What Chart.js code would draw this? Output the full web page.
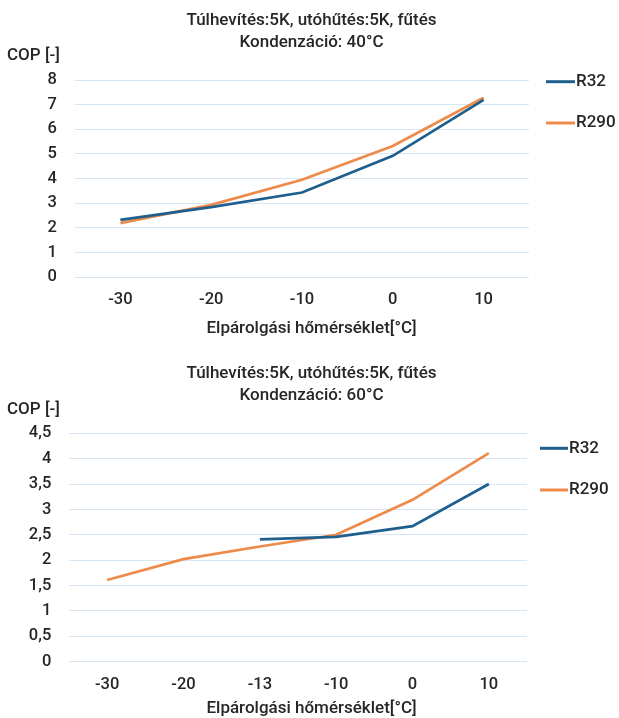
<!DOCTYPE html>
<html>
<head>
<meta charset="utf-8">
<script src="https://cdn.jsdelivr.net/npm/chart.js@4"></script>
<style>
html,body{margin:0;padding:0;background:#fff;}
#w1{position:absolute;left:0;top:0;width:619px;height:355px;}
#w2{position:absolute;left:0;top:355px;width:619px;height:363px;}
</style>
</head>
<body>
<div id="w1"><canvas id="c1"></canvas></div>
<div id="w2"><canvas id="c2"></canvas></div>
<script>
// ---- data ----
const titleLines1 = ['Túlhevítés:5K, utóhűtés:5K, fűtés', 'Kondenzáció: 40°C'];
const titleLines2 = ['Túlhevítés:5K, utóhűtés:5K, fűtés', 'Kondenzáció: 60°C'];
const yAxisLabel = 'COP [-]';
const xAxisLabel = 'Elpárolgási hőmérséklet[°C]';
const seriesNames = ['R32', 'R290'];

const categories1 = ['-30', '-20', '-10', '0', '10'];
const r32_40 = [2.32, 2.84, 3.43, 4.92, 7.19];
const r290_40 = [2.19, 2.93, 3.95, 5.32, 7.28];
const yTicks1 = ['0', '1', '2', '3', '4', '5', '6', '7', '8'];

const categories2 = ['-30', '-20', '-13', '-10', '0', '10'];
const r32_60 = [null, null, 2.41, 2.46, 2.67, 3.50];
const r290_60 = [1.61, 2.02, 2.27, 2.50, 3.19, 4.11];
const yTicks2 = ['0', '0,5', '1', '1,5', '2', '2,5', '3', '3,5', '4', '4,5'];

// ---- styling ----
const BLUE = '#1f5f8e';
const ORANGE = '#ee8a4a';
const TEXT = '#262626';
const GRID = '#d6e6f4';
const FONT = 'Roboto, "Liberation Sans", sans-serif';

const textPlugin = {
  id: 'sideText',
  afterDraw(chart, args, opts) {
    const ctx = chart.ctx;
    const ca = chart.chartArea;
    ctx.save();
    ctx.fillStyle = TEXT;
    ctx.textBaseline = 'middle';
    ctx.textAlign = 'center';
    ctx.font = '500 17px ' + FONT;
    opts.title.forEach((t, i) => ctx.fillText(t, opts.titleX, opts.titleY[i]));
    ctx.fillText(xAxisLabel, opts.titleX, opts.xTitleY);
    ctx.textAlign = 'left';
    ctx.fillText(yAxisLabel, opts.copX, opts.copY);
    chart.data.datasets.forEach((ds, i) => {
      const y = ca.top + opts.legendY[i];
      const x0 = ca.right + opts.legendX;
      ctx.strokeStyle = ds.borderColor;
      ctx.lineWidth = 3;
      ctx.beginPath();
      ctx.moveTo(x0, y);
      ctx.lineTo(x0 + opts.legendLen, y);
      ctx.stroke();
      ctx.fillStyle = TEXT;
      ctx.fillText(ds.label, x0 + opts.legendLen + 1, y);
    });
    ctx.restore();
  }
};

function makeChart(id, cats, s1, s2, titleLines, yLabels, yMax, yStep, geo) {
  geo.side.title = titleLines;
  return new Chart(document.getElementById(id), {
    type: 'line',
    data: {
      labels: cats,
      datasets: [
        {label: seriesNames[0], data: s1, borderColor: BLUE, backgroundColor: BLUE, borderWidth: 2.7, pointRadius: 0, tension: 0},
        {label: seriesNames[1], data: s2, borderColor: ORANGE, backgroundColor: ORANGE, borderWidth: 2.7, pointRadius: 0, tension: 0}
      ]
    },
    options: {
      responsive: true,
      maintainAspectRatio: false,
      animation: false,
      layout: {padding: {left: 0, right: geo.padRight, top: geo.padTop, bottom: 0}},
      plugins: {
        legend: {display: false},
        tooltip: {enabled: false},
        title: {display: false},
        sideText: geo.side
      },
      scales: {
        x: {
          offset: true,
          grid: {display: false, drawTicks: false},
          border: {display: false},
          ticks: {color: TEXT, font: {family: FONT, size: 16.5, weight: '500'}, padding: geo.xTickPad, maxRotation: 0, autoSkip: false},
          afterFit(s) { s.height = geo.xHeight; }
        },
        y: {
          min: 0, max: yMax,
          grid: {color: GRID, lineWidth: 1, drawTicks: false},
          border: {display: false},
          ticks: {
            stepSize: yStep, color: TEXT, padding: geo.yTickPad,
            font: {family: FONT, size: 16.5, weight: '500'},
            callback: (v, i) => yLabels[i]
          },
          afterFit(s) { s.width = geo.yWidth; }
        }
      }
    },
    plugins: [textPlugin]
  });
}

makeChart('c1', categories1, r32_40, r290_40, titleLines1, yTicks1, 8, 1, {
  padRight: 90, padTop: 80,
  xTickPad: 13, xHeight: 78, yTickPad: 18, yWidth: 75,
  side: {titleX: 311.5, titleY: [21, 43], xTitleY: 328.5, copX: 7, copY: 56,
         legendX: 17, legendLen: 29, legendY: [1.7, 43]}
});

makeChart('c2', categories2, r32_60, r290_60, titleLines2, yTicks2, 4.5, 0.5, {
  padRight: 92, padTop: 78.3,
  xTickPad: 13.5, xHeight: 56.3, yTickPad: 17.7, yWidth: 69,
  side: {titleX: 311.5, titleY: [18.5, 40.5], xTitleY: 353.5, copX: 7, copY: 55,
         legendX: 13, legendLen: 28, legendY: [15, 56.7]}
});
</script>
</body>
</html>
